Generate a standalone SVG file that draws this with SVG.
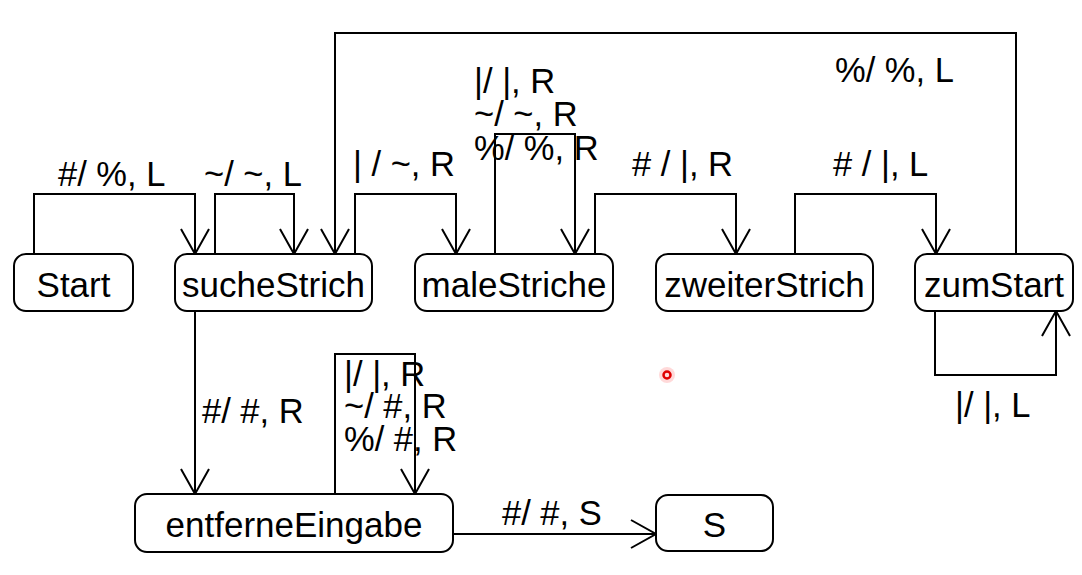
<svg xmlns="http://www.w3.org/2000/svg" width="1082" height="575" viewBox="0 0 1082 575">
<style>
  .node rect { fill: #ffffff; stroke: #000; stroke-width: 2; }
  .node text { font-family: "Liberation Sans", Arial, sans-serif; font-size: 35px; fill: #000; text-anchor: middle; }
  .edge { fill: none; stroke: #000; stroke-width: 2; marker-end: url(#arr); }
  .lbl { font-family: "Liberation Sans", Arial, sans-serif; font-size: 34.5px; fill: #000; }
</style>
<defs>
  <marker id="arr" markerUnits="userSpaceOnUse" markerWidth="40" markerHeight="40" viewBox="-30 -20 40 40" refX="0" refY="0" orient="auto">
    <path d="M-25,-14 L0,0 L-25,14" fill="none" stroke="#000" stroke-width="2"/>
  </marker>
</defs>
<rect width="1082" height="575" fill="#ffffff"/>
<g id="connectors">
  <path class="edge" d="M34,254 V194 H195 V254"/>
  <path class="edge" d="M215,254 V194 H294 V254"/>
  <path class="edge" d="M1016,254 V33 H335 V254"/>
  <path class="edge" d="M355,254 V194 H456 V254"/>
  <path class="edge" d="M495,254 V134 H575 V254"/>
  <path class="edge" d="M595,254 V194 H736 V254"/>
  <path class="edge" d="M795,254 V194 H936 V254"/>
  <path class="edge" d="M935,311 V375 H1056 V311"/>
  <path class="edge" d="M195,311 V494"/>
  <path class="edge" d="M335,494 V354 H415 V494"/>
  <path class="edge" d="M453,534 H656"/>
  <text class="lbl" x="58" y="186">#/ %, L</text>
  <text class="lbl" x="204" y="186">~/ ~, L</text>
  <text class="lbl" x="835" y="82">%/ %, L</text>
  <text class="lbl" x="353" y="176">| / ~, R</text>
  <text class="lbl" x="474" y="93">|/ |, R</text>
  <text class="lbl" x="474" y="126">~/ ~, R</text>
  <text class="lbl" x="474" y="160">%/ %, R</text>
  <text class="lbl" x="632" y="176"># / |, R</text>
  <text class="lbl" x="833" y="176"># / |, L</text>
  <text class="lbl" x="955" y="417">|/ |, L</text>
  <text class="lbl" x="202" y="423">#/ #, R</text>
  <text class="lbl" x="344" y="386">|/ |, R</text>
  <text class="lbl" x="344" y="418">~/ #, R</text>
  <text class="lbl" x="344" y="451">%/ #, R</text>
  <text class="lbl" x="502" y="525">#/ #, S</text>
</g>
<g id="Start" class="node"><rect x="14" y="254" width="119" height="57" rx="12"/><text x="73.5" y="297">Start</text></g>
<g id="sucheStrich" class="node"><rect x="175" y="254" width="197" height="57" rx="12"/><text x="273.5" y="297">sucheStrich</text></g>
<g id="maleStriche" class="node"><rect x="415" y="254" width="198" height="57" rx="12"/><text x="514" y="297">maleStriche</text></g>
<g id="zweiterStrich" class="node"><rect x="656" y="254" width="217" height="57" rx="12"/><text x="764.5" y="297">zweiterStrich</text></g>
<g id="zumStart" class="node"><rect x="915" y="254" width="158" height="57" rx="12"/><text x="994" y="297">zumStart</text></g>
<g id="entferneEingabe" class="node"><rect x="135" y="494" width="318" height="58" rx="12"/><text x="294" y="537">entferneEingabe</text></g>
<g id="S" class="node"><rect x="656" y="495" width="117" height="56" rx="12"/><text x="714.5" y="537">S</text></g>
<g id="cursor">
  <circle cx="667" cy="375" r="8" fill="#ff0000" fill-opacity="0.15"/>
  <circle cx="667" cy="375" r="3.5" fill="none" stroke="#e00000" stroke-width="2.5"/>
</g>
</svg>
